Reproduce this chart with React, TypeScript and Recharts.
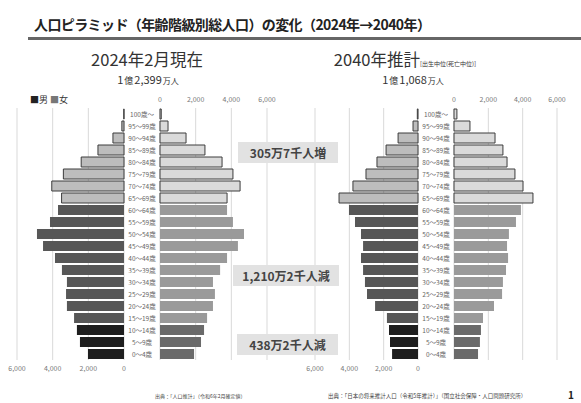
import React from 'react';
import { BarChart, Bar, XAxis, YAxis, CartesianGrid, Cell } from 'recharts';

// 年齢階級（上から高齢順）
const ageLabels = [
  '100歳～', '95～99歳', '90～94歳', '85～89歳', '80～84歳', '75～79歳', '70～74歳',
  '65～69歳', '60～64歳', '55～59歳', '50～54歳', '45～49歳', '40～44歳', '35～39歳',
  '30～34歳', '25～29歳', '20～24歳', '15～19歳', '10～14歳', '5～9歳', '0～4歳',
];

// 人口（千人）
const male2024 = [
  10, 120, 620, 1460, 2400, 3400, 4050, 3500, 3700, 4150, 4880,
  4540, 3870, 3480, 3200, 3250, 3200, 2800, 2640, 2470, 2020,
];
const female2024 = [
  70, 450, 1460, 2520, 3480, 4090, 4490, 3760, 3760, 4090, 4710,
  4370, 3760, 3370, 2970, 3080, 2970, 2640, 2470, 2300, 1910,
];
const male2040 = [
  40, 290, 1160, 1860, 2390, 3030, 3790, 4600, 4020, 3670, 3320,
  3200, 3320, 3200, 3090, 2970, 2500, 1810, 1690, 1630, 1510,
];
const female2040 = [
  170, 930, 2390, 2850, 3090, 3550, 4020, 4600, 3900, 3610, 3200,
  3090, 3150, 3030, 2850, 2800, 2330, 1690, 1570, 1510, 1400,
];

const axisTicks = [0, 2000, 4000, 6000];

const FONT = '"Noto Sans CJK JP", "Noto Sans", sans-serif';
const PLOT_TOP = 108;
const PLOT_H = 252;
const AXIS_H = 20;
const PAD = 15;

const colors = {
  male: { old: '#bdbdbd', work: '#575757', young: '#1e1e1e' },
  female: { old: '#dadada', work: '#9a9a9a', young: '#6a6a6a' },
};

// 65歳以上 / 15-64歳 / 0-14歳
const groupOf = (i: number) => (i <= 7 ? 'old' : i <= 17 ? 'work' : 'young');

const toRows = (values: number[]) => values.map((v, i) => ({ age: ageLabels[i], value: v }));

const tickStyle = { fontSize: 7, fill: '#777', fontFamily: FONT };
const fmt = (v: number) => v.toLocaleString('en-US');

function bars(values: number[], sex: 'male' | 'female') {
  return (
    <Bar dataKey="value" barSize={10} isAnimationActive={false}>
      {values.map((_, i) => {
        const g = groupOf(i);
        return (
          <Cell
            key={i}
            fill={colors[sex][g]}
            stroke={g === 'old' ? '#3c3c3c' : 'none'}
            strokeWidth={g === 'old' ? 1 : 0}
          />
        );
      })}
    </Bar>
  );
}

function MaleSide({ left, width, values }: { left: number; width: number; values: number[] }) {
  return (
    <div style={{ position: 'absolute', left: left - PAD, top: PLOT_TOP }}>
      <BarChart
        width={width + PAD * 2}
        height={PLOT_H + AXIS_H}
        data={toRows(values)}
        layout="vertical"
        barCategoryGap={1}
        margin={{ top: 0, right: PAD, bottom: 0, left: PAD }}
      >
        <CartesianGrid horizontal={false} stroke="#d9d9d9" />
        <XAxis
          type="number"
          domain={[0, 6000]}
          ticks={axisTicks}
          interval={0}
          reversed
          height={AXIS_H}
          axisLine={false}
          tickLine={false}
          tickSize={4}
          tick={tickStyle}
          tickFormatter={fmt}
        />
        <YAxis type="category" dataKey="age" hide />
        {bars(values, 'male')}
      </BarChart>
    </div>
  );
}

function FemaleSide({ left, col, width, values }: { left: number; col: number; width: number; values: number[] }) {
  const AgeTick = (props: any) => (
    <text
      x={col / 2}
      y={props.y}
      dy={2.5}
      textAnchor="middle"
      fontSize={6.5}
      fill="#666"
      fontFamily={FONT}
    >
      {props.payload.value}
    </text>
  );
  return (
    <div style={{ position: 'absolute', left, top: PLOT_TOP - AXIS_H }}>
      <BarChart
        width={col + width + PAD}
        height={PLOT_H + AXIS_H}
        data={toRows(values)}
        layout="vertical"
        barCategoryGap={1}
        margin={{ top: 0, right: PAD, bottom: 0, left: 0 }}
      >
        <CartesianGrid horizontal={false} stroke="#d9d9d9" />
        <XAxis
          type="number"
          orientation="top"
          domain={[0, 6000]}
          ticks={axisTicks}
          interval={0}
          height={AXIS_H}
          axisLine={false}
          tickLine={false}
          tickSize={4}
          tick={tickStyle}
          tickFormatter={fmt}
        />
        <YAxis
          type="category"
          dataKey="age"
          width={col}
          axisLine={false}
          tickLine={false}
          tick={<AgeTick />}
          interval={0}
        />
        {bars(values, 'female')}
      </BarChart>
    </div>
  );
}

function Note({ left, top, width, text }: { left: number; top: number; width: number; text: string }) {
  return (
    <div
      style={{
        position: 'absolute',
        left,
        top,
        width,
        height: 21,
        lineHeight: '21px',
        background: '#e2e2e2',
        color: '#444',
        fontWeight: 700,
        fontSize: 12,
        textAlign: 'center',
      }}
    >
      {text}
    </div>
  );
}

// 見出し（年次）
function Heading({ left, children }: { left: number; children: React.ReactNode }) {
  return (
    <div style={{ position: 'absolute', left, width: 200, top: 47, height: 24, lineHeight: '24px', textAlign: 'center', fontSize: 16.5, whiteSpace: 'nowrap' }}>
      {children}
    </div>
  );
}

// 総人口「1億2,399万人」の表記
function Total({ left, oku, man }: { left: number; oku: string; man: string }) {
  return (
    <div style={{ position: 'absolute', left, width: 200, top: 71, height: 16, textAlign: 'center', fontSize: 11, lineHeight: '16px', whiteSpace: 'nowrap' }}>
      <span>{oku}</span>
      <span style={{ fontSize: 9, marginLeft: 1 }}>億</span>
      <span style={{ marginLeft: 1 }}>{man}</span>
      <span style={{ fontSize: 8, marginLeft: 1 }}>万人</span>
    </div>
  );
}

export default function App() {
  return (
    <div
      style={{
        position: 'absolute',
        left: 0,
        top: 0,
        width: 581,
        height: 403,
        background: '#fff',
        fontFamily: FONT,
        color: '#333',
        overflow: 'hidden',
      }}
    >
      <div style={{ position: 'absolute', left: 34, top: 14, fontSize: 14, fontWeight: 700, letterSpacing: -0.6, whiteSpace: 'nowrap', color: '#222' }}>
        人口ピラミッド（年齢階級別総人口）の変化（2024年→2040年）
      </div>
      <div style={{ position: 'absolute', left: 28, top: 37, width: 553, height: 3, background: '#666' }} />

      <Heading left={47}>2024年2月現在</Heading>
      <Total left={48} oku="1" man="2,399" />

      <Heading left={305}>
        2040年推計<span style={{ fontSize: 6 }}>[出生中位(死亡中位)]</span>
      </Heading>
      <Total left={313} oku="1" man="1,068" />

      <div style={{ position: 'absolute', left: 30, top: 93, fontSize: 9, whiteSpace: 'nowrap' }}>
        <span style={{ color: '#222' }}>■</span>男 <span style={{ color: '#777' }}>■</span>女
      </div>

      <MaleSide left={17} width={107} values={male2024} />
      <FemaleSide left={124} col={36} width={107} values={female2024} />
      <MaleSide left={315} width={103} values={male2040} />
      <FemaleSide left={418} col={36} width={103} values={female2040} />

      <Note left={238} top={142} width={100} text="305万7千人増" />
      <Note left={233} top={265} width={106} text="1,210万2千人減" />
      <Note left={237} top={334} width={101} text="438万2千人減" />

      <div style={{ position: 'absolute', left: 155, top: 392, fontSize: 5, whiteSpace: 'nowrap', color: '#444' }}>
        出典：「人口推計」（令和6年2月確定値）
      </div>
      <div style={{ position: 'absolute', left: 328, top: 392, fontSize: 5.5, whiteSpace: 'nowrap', color: '#444' }}>
        出典：「日本の将来推計人口（令和5年推計）」（国立社会保障・人口問題研究所）
      </div>
      <div style={{ position: 'absolute', left: 568, top: 387, fontSize: 10, fontWeight: 700, color: '#222' }}>1</div>
    </div>
  );
}
